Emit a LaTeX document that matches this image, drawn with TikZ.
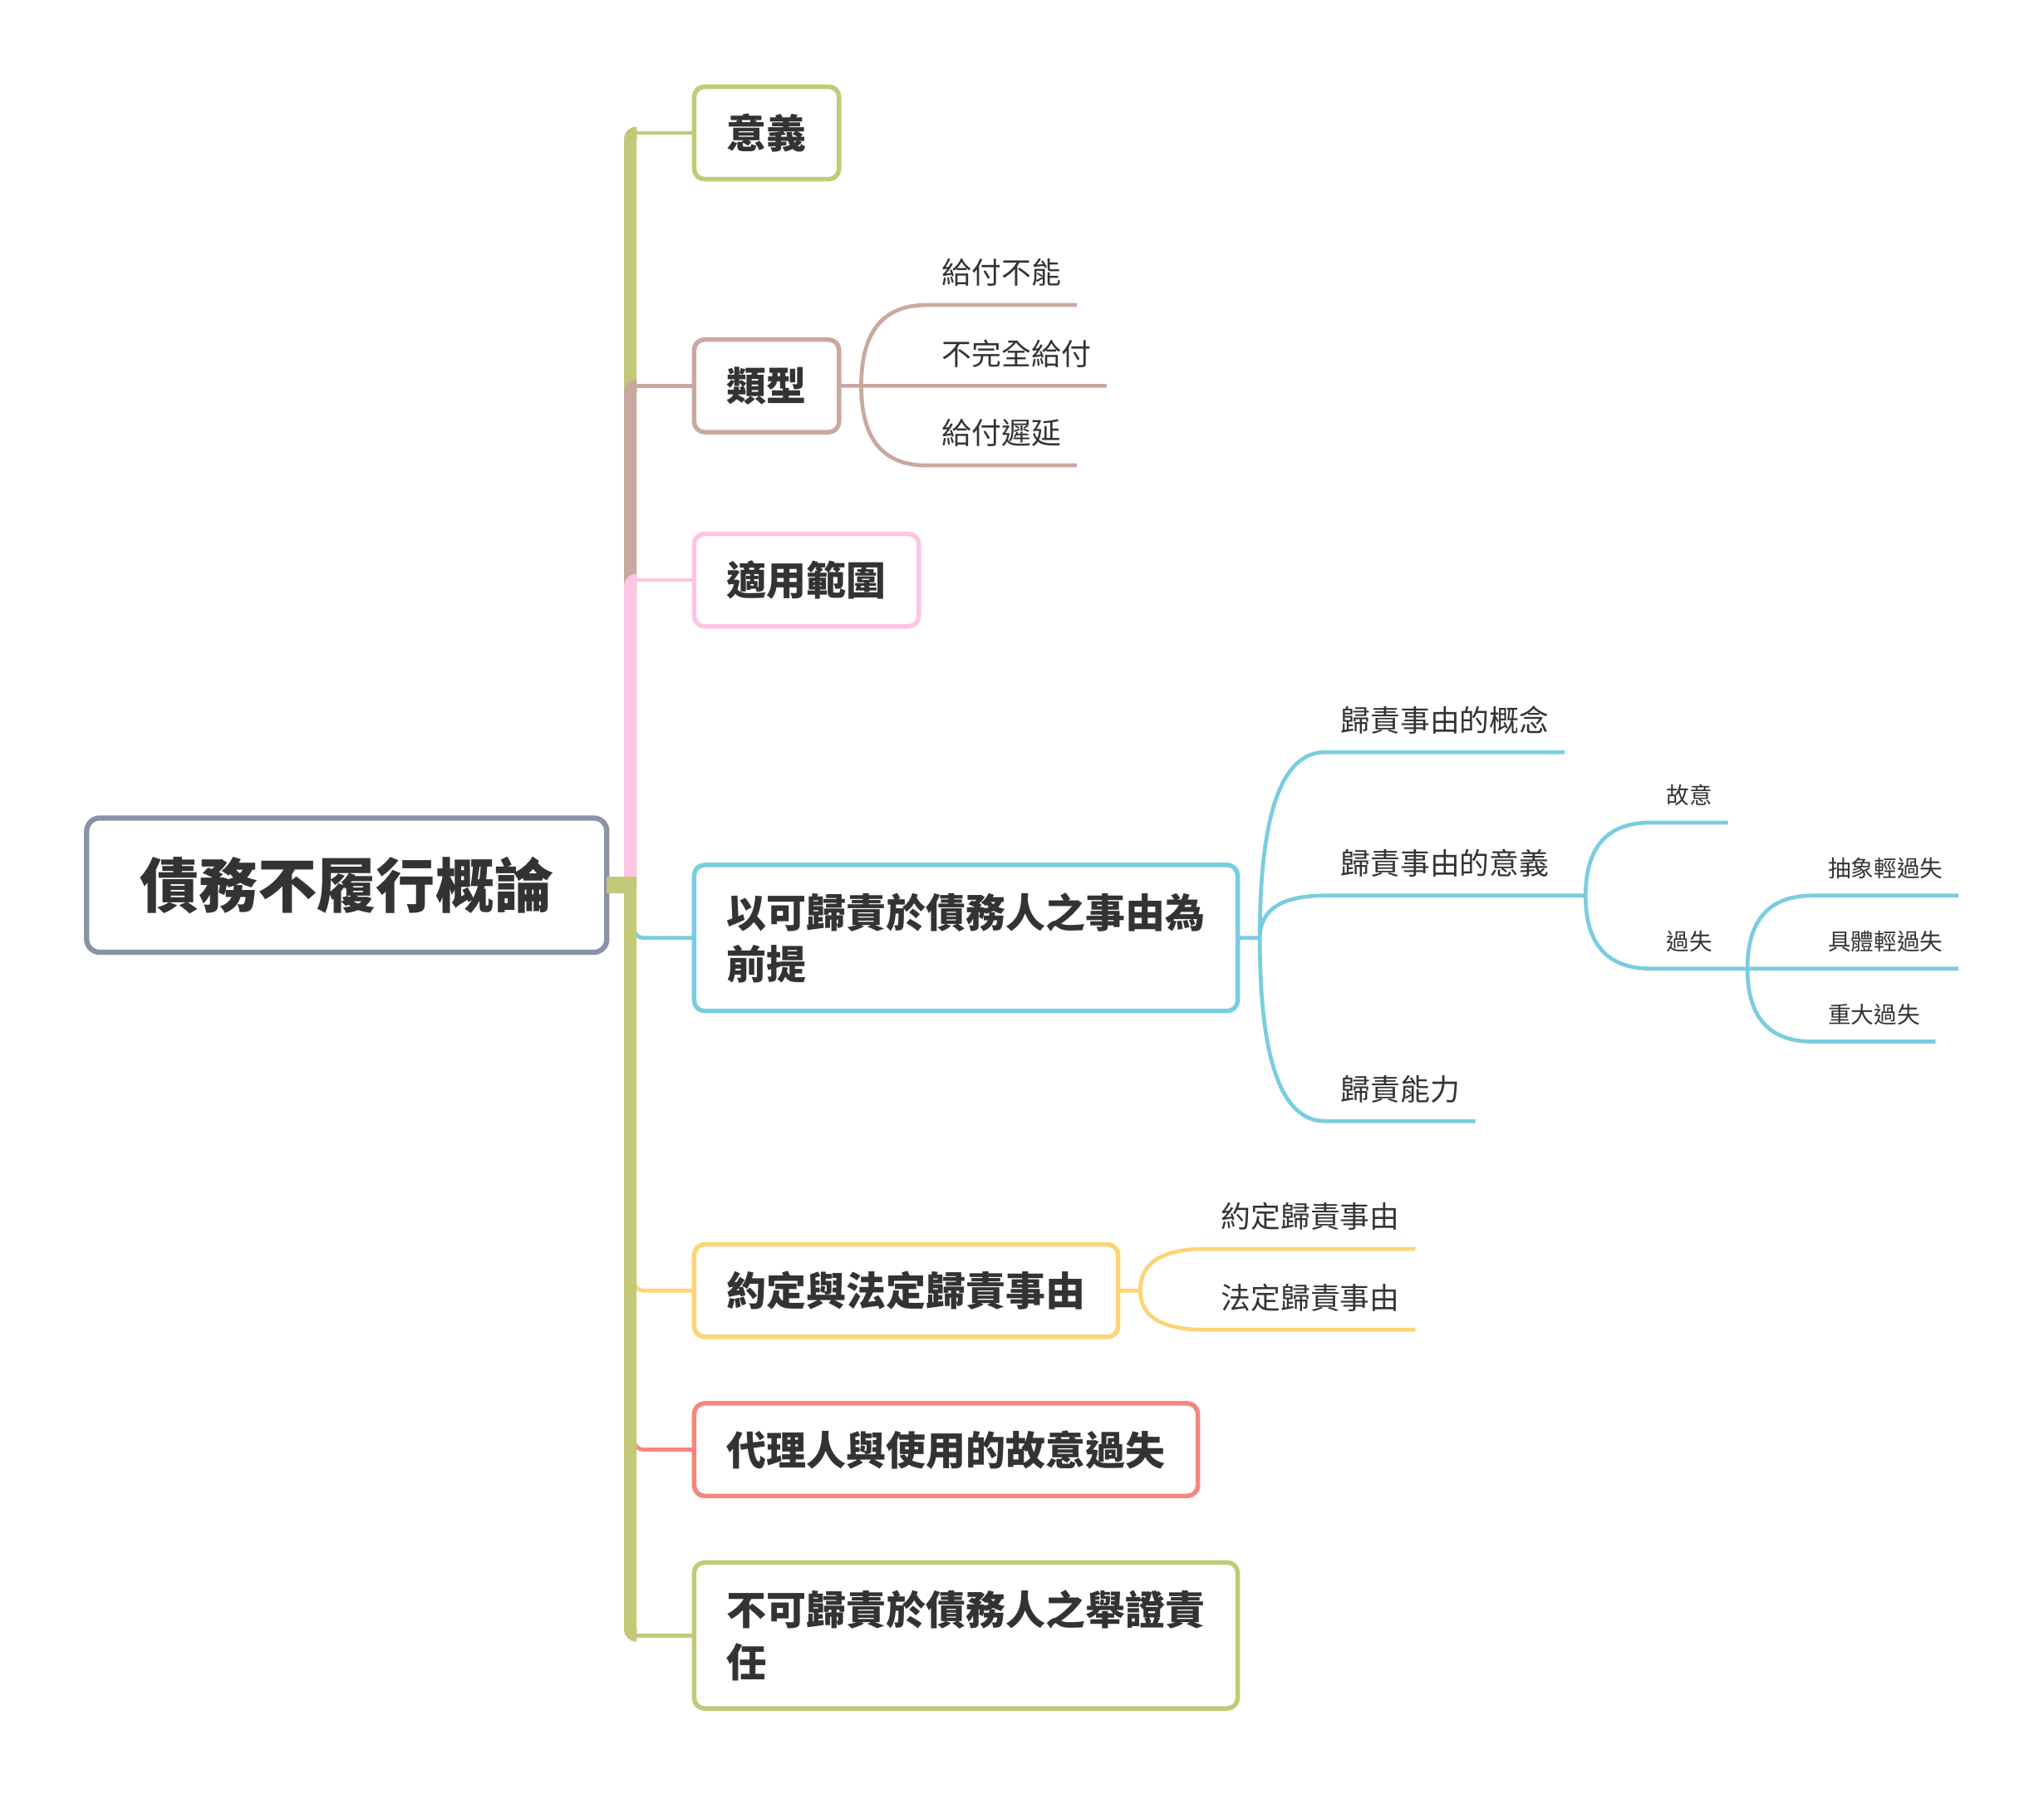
\documentclass[tikz,border=0pt]{standalone}
\usepackage{fontspec}
\newfontfamily\cjk{Noto Sans CJK TC}
\usetikzlibrary{positioning, calc}

\definecolor{ctext}{HTML}{333333}
\definecolor{cgray}{HTML}{8893A5}
\definecolor{cgreen}{HTML}{C3C977}
\definecolor{cbrown}{HTML}{C9A99F}
\definecolor{cpink}{HTML}{FDC5E3}
\definecolor{cblue}{HTML}{7ACDE0}
\definecolor{cyellow}{HTML}{FDD476}
\definecolor{cred}{HTML}{F6867D}

\tikzset{
  root/.style={draw=cgray, line width=0.08cm, rounded corners=0.2cm, fill=white,
    minimum width=7.98cm, minimum height=2.06cm, outer sep=0pt, text=ctext,
    font=\cjk\bfseries\fontsize{25.8pt}{30pt}\selectfont},
  topic/.style={draw=#1, line width=0.07cm, rounded corners=0.16cm, fill=white,
    minimum height=1.42cm, inner xsep=0.5cm, outer sep=0pt, align=left, text=ctext,
    font=\cjk\bfseries\fontsize{17.4pt}{22.8pt}\selectfont},
  subtopic/.style={inner xsep=0.24cm, inner ysep=0.32cm, text depth=0pt, outer sep=0pt,
    text=ctext, font=\cjk\fontsize{13pt}{15pt}\selectfont},
  detail/.style={subtopic, inner ysep=0.28cm, font=\cjk\fontsize{10pt}{12pt}\selectfont},
  stem/.style={line width=0.19cm, rounded corners=0.09cm},
  link/.style={line width=0.06cm},
  elbow/.style={link, rounded corners=0.14cm},
  fork/.style={to path={.. controls ($(\tikztostart)!0.667!(\tikztostart |- \tikztotarget)$)
      and ($(\tikztotarget)!0.667!(\tikztostart |- \tikztotarget)$) .. (\tikztotarget) \tikztonodes}}
}

\begin{document}
\begin{tikzpicture}[node distance=1cm]
\useasboundingbox (-5.32,-13.94) rectangle (26.04,13.58);

\node[root] (root) {債務不履行概論};
\coordinate[right=0.36cm of root] (hub);

% first level
\node[topic=cgreen, right=0.98cm of hub, yshift=11.54cm] (yiyi) {意義};
\node[topic=cbrown, right=0.98cm of hub, yshift=7.66cm] (leixing) {類型};
\node[topic=cpink, right=0.98cm of hub, yshift=4.68cm] (fanwei) {適用範圍};
\node[topic=cblue, minimum height=2.24cm, right=0.98cm of hub, yshift=-0.81cm] (guize) {以可歸責於債務人之事由為\\前提};
\node[topic=cyellow, right=0.98cm of hub, yshift=-6.22cm] (yueding) {約定與法定歸責事由};
\node[topic=cred, right=0.98cm of hub, yshift=-8.66cm] (daili) {代理人與使用的故意過失};
\node[topic=cgreen, minimum height=2.24cm, right=0.98cm of hub, yshift=-11.51cm] (juzheng) {不可歸責於債務人之舉證責\\任};

% trunk
\draw[stem, cgreen] (hub) |- ([xshift=0.1cm]hub |- yiyi.west);
\draw[link, cgreen] (hub |- yiyi.west) -- (yiyi.west);
\draw[stem, cbrown] (hub) |- ([xshift=0.1cm]hub |- leixing.west);
\draw[link, cbrown] (hub |- leixing.west) -- (leixing.west);
\draw[stem, cpink] (hub) |- ([xshift=0.1cm]hub |- fanwei.west);
\draw[link, cpink] (hub |- fanwei.west) -- (fanwei.west);
\draw[elbow, cblue] ([xshift=0.06cm]hub) |- (guize.west);
\draw[elbow, cyellow] ([xshift=0.06cm]hub) |- (yueding.west);
\draw[elbow, cred] ([xshift=0.06cm]hub) |- (daili.west);
\draw[cgreen, line width=0.26cm] (root.east) -- (hub);
\draw[stem, cgreen] ([yshift=0.13cm]hub) |- ([xshift=0.1cm]hub |- juzheng.west);
\draw[link, cgreen] (hub |- juzheng.west) -- (juzheng.west);

% types
\coordinate[right=0.34cm of leixing] (f1);
\node[subtopic, above right=1.24cm and 1cm of f1] (l1) {給付不能};
\node[subtopic, right=1cm of f1, anchor=south west] (l2) {不完全給付};
\node[subtopic, below right=1.22cm and 1cm of f1, anchor=south west] (l3) {給付遲延};
\draw[link, cbrown] (leixing.east) -- (f1) to[fork] (l1.south west) -- (l1.south east)
  (f1) -- (l2.south east)
  (f1) to[fork] (l3.south west) -- (l3.south east);

% attributable cause
\coordinate[right=0.34cm of guize] (f2);
\node[subtopic, above right=2.85cm and 1cm of f2] (b1) {歸責事由的概念};
\node[subtopic, above right=0.65cm and 1cm of f2] (b2) {歸責事由的意義};
\node[subtopic, below right=2.81cm and 1cm of f2, anchor=south west] (b3) {歸責能力};
\coordinate[right=0.32cm of b2.south east] (f3);
\node[detail, above right=1.12cm and 1cm of f3] (c1) {故意};
\node[detail, below right=1.12cm and 1cm of f3, anchor=south west] (c2) {過失};
\coordinate[right=0.3cm of c2.south east] (f4);
\node[detail, above right=1.12cm and 1cm of f4] (d1) {抽象輕過失};
\node[detail, right=1cm of f4, anchor=south west] (d2) {具體輕過失};
\node[detail, below right=1.12cm and 1cm of f4, anchor=south west] (d3) {重大過失};
\draw[link, cblue] (guize.east) -- (f2) to[fork] (b1.south west) -- (b1.south east)
  (f2) to[fork] (b2.south west) -- (f3)
  (f2) to[fork] (b3.south west) -- (b3.south east);
\draw[link, cblue] (f3) to[fork] (c1.south west) -- (c1.south east)
  (f3) to[fork] (c2.south west) -- (f4);
\draw[link, cblue] (f4) to[fork] (d1.south west) -- (d1.south east)
  (f4) -- (d2.south east)
  (f4) to[fork] (d3.south west) -- (d3.south east);

% agreed and statutory
\coordinate[right=0.34cm of yueding] (f5);
\node[subtopic, above right=0.64cm and 1cm of f5] (y1) {約定歸責事由};
\node[subtopic, below right=0.6cm and 1cm of f5, anchor=south west] (y2) {法定歸責事由};
\draw[link, cyellow] (yueding.east) -- (f5) to[fork] (y1.south west) -- (y1.south east)
  (f5) to[fork] (y2.south west) -- (y2.south east);
\end{tikzpicture}
\end{document}
